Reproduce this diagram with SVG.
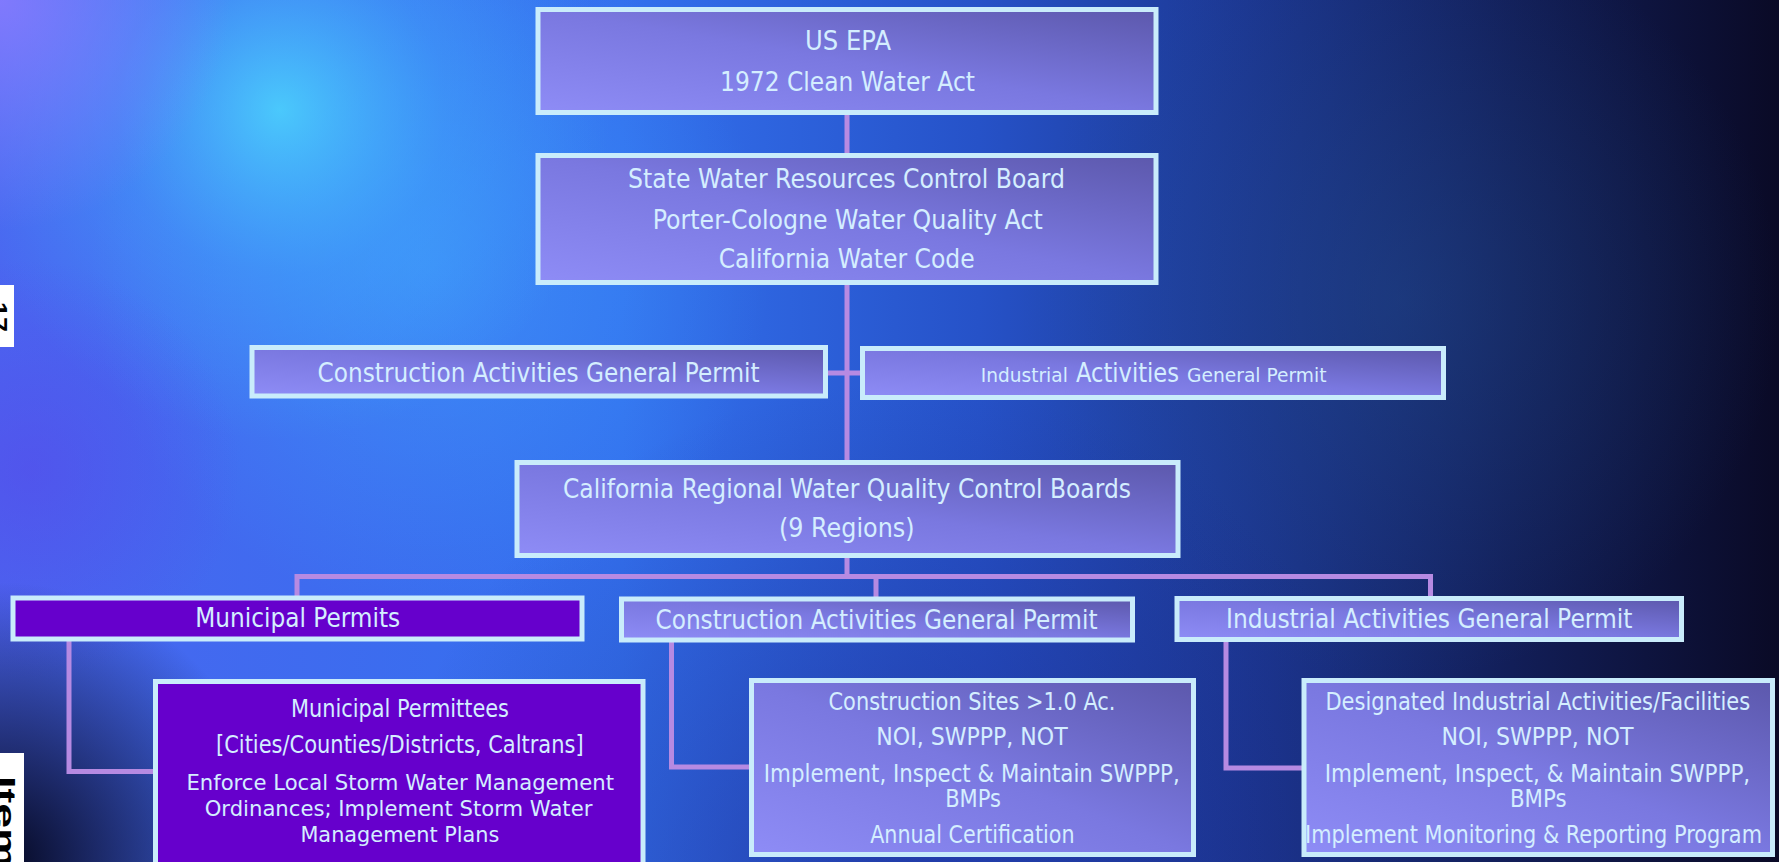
<svg xmlns="http://www.w3.org/2000/svg" width="1779" height="862" viewBox="0 0 1779 862">
<defs>
<style>
.box{fill:url(#boxg);stroke:#c9ecfb;stroke-width:5}
.mbox{fill:#6600cc;stroke:#c9ecfb;stroke-width:5}
.conn{stroke:#b68ae2;stroke-width:5;fill:none;stroke-linejoin:miter}
.t{font-family:'DejaVu Sans','Liberation Sans',sans-serif;fill:#d4eeff;font-size:26px}
.s{font-size:24px}
.xs{font-size:22px}
.sm{font-size:20px}
.lbl{font-family:'Liberation Sans',sans-serif;font-weight:bold;fill:#000}
</style>
<linearGradient id="bg" x1="0" y1="0" x2="1" y2="0">
<stop offset="0" stop-color="#4a66f0"/>
<stop offset="0.35" stop-color="#3370ee"/>
<stop offset="0.55" stop-color="#2652c8"/>
<stop offset="0.70" stop-color="#1c3792"/>
<stop offset="0.85" stop-color="#121e58"/>
<stop offset="1" stop-color="#0a0a26"/>
</linearGradient>
<radialGradient id="g1" cx="280" cy="110" r="330" gradientUnits="userSpaceOnUse">
<stop offset="0" stop-color="#4ee4ff" stop-opacity="0.75"/>
<stop offset="0.5" stop-color="#40b8ff" stop-opacity="0.35"/>
<stop offset="1" stop-color="#40b8ff" stop-opacity="0"/>
</radialGradient>
<radialGradient id="g2" cx="430" cy="270" r="340" gradientUnits="userSpaceOnUse">
<stop offset="0" stop-color="#40a8ff" stop-opacity="0.5"/>
<stop offset="1" stop-color="#40a8ff" stop-opacity="0"/>
</radialGradient>
<radialGradient id="g3" cx="0" cy="0" r="230" gradientUnits="userSpaceOnUse">
<stop offset="0" stop-color="#8a7cff" stop-opacity="0.85"/>
<stop offset="1" stop-color="#8a7cff" stop-opacity="0"/>
</radialGradient>
<radialGradient id="g4" cx="0" cy="862" r="280" gradientUnits="userSpaceOnUse">
<stop offset="0" stop-color="#050820" stop-opacity="1"/>
<stop offset="1" stop-color="#050820" stop-opacity="0"/>
</radialGradient>
<radialGradient id="g5" cx="30" cy="470" r="210" gradientUnits="userSpaceOnUse">
<stop offset="0" stop-color="#5a40e8" stop-opacity="0.45"/>
<stop offset="1" stop-color="#5a40e8" stop-opacity="0"/>
</radialGradient>
<radialGradient id="g6" cx="900" cy="900" r="520" gradientUnits="userSpaceOnUse">
<stop offset="0" stop-color="#1a2080" stop-opacity="0.5"/>
<stop offset="1" stop-color="#1a2080" stop-opacity="0"/>
</radialGradient>
<radialGradient id="g7" cx="1400" cy="300" r="380" gradientUnits="userSpaceOnUse">
<stop offset="0" stop-color="#245090" stop-opacity="0.4"/>
<stop offset="1" stop-color="#245090" stop-opacity="0"/>
</radialGradient>
<linearGradient id="boxg" x1="0" y1="1" x2="1" y2="0">
<stop offset="0" stop-color="#8e8cf6"/>
<stop offset="0.5" stop-color="#7a78e0"/>
<stop offset="1" stop-color="#5c58ac"/>
</linearGradient>
</defs>

<g id="background">
<rect x="0" y="0" width="1779" height="862" fill="url(#bg)"/>
<rect x="0" y="0" width="1779" height="862" fill="url(#g2)"/>
<rect x="0" y="0" width="1779" height="862" fill="url(#g1)"/>
<rect x="0" y="0" width="1779" height="862" fill="url(#g3)"/>
<rect x="0" y="0" width="1779" height="862" fill="url(#g5)"/>
<rect x="0" y="0" width="1779" height="862" fill="url(#g6)"/>
<rect x="0" y="0" width="1779" height="862" fill="url(#g7)"/>
<rect x="0" y="0" width="1779" height="862" fill="url(#g4)"/>
</g>

<g id="edge-labels">
<rect x="0" y="285" width="14" height="62" fill="#ffffff"/>
<text class="lbl" font-size="24" transform="translate(-10,302) rotate(90)" textLength="30" lengthAdjust="spacingAndGlyphs">17</text>
<rect x="0" y="753" width="24" height="109" fill="#ffffff"/>
<text class="lbl" font-size="28" transform="translate(-4,776) rotate(90)" textLength="92" lengthAdjust="spacingAndGlyphs">Item</text>
</g>

<g id="connectors">
<path class="conn" d="M847,113 V462"/>
<path class="conn" d="M826,373 H863"/>
<path class="conn" d="M847,556 V576.5"/>
<path class="conn" d="M297,598 V576.5 H1430.5 V598"/>
<path class="conn" d="M876,576.5 V599"/>
<path class="conn" d="M69,641 V771.5 H156"/>
<path class="conn" d="M671.5,642 V767 H752"/>
<path class="conn" d="M1226,641 V768 H1304"/>
</g>

<g id="node-epa">
<rect class="box" x="538" y="9.5" width="618" height="103"/>
<text class="t" x="805" y="50" textLength="86" lengthAdjust="spacingAndGlyphs">US EPA</text>
<text class="t" x="720" y="90.5" textLength="255" lengthAdjust="spacingAndGlyphs">1972 Clean Water Act</text>
</g>

<g id="node-state">
<rect class="box" x="538" y="155.5" width="618" height="127"/>
<text class="t" x="628" y="188" textLength="437" lengthAdjust="spacingAndGlyphs">State Water Resources Control Board</text>
<text class="t" x="652.7" y="229" textLength="390" lengthAdjust="spacingAndGlyphs">Porter-Cologne Water Quality Act</text>
<text class="t" x="718.7" y="268" textLength="256" lengthAdjust="spacingAndGlyphs">California Water Code</text>
</g>

<g id="node-construction-upper">
<rect class="box" x="252" y="347.5" width="573.5" height="48.5"/>
<text class="t" x="317.6" y="382" textLength="442" lengthAdjust="spacingAndGlyphs">Construction Activities General Permit</text>
</g>

<g id="node-industrial-upper">
<rect class="box" x="862.5" y="348.5" width="581" height="49"/>
<text class="t sm" x="980.8" y="382" textLength="87" lengthAdjust="spacingAndGlyphs">Industrial</text>
<text class="t" x="1076" y="382" textLength="103" lengthAdjust="spacingAndGlyphs">Activities</text>
<text class="t sm" x="1187" y="382" textLength="139.5" lengthAdjust="spacingAndGlyphs">General Permit</text>
</g>

<g id="node-regional">
<rect class="box" x="517" y="462.5" width="661" height="93"/>
<text class="t" x="563" y="498" textLength="568" lengthAdjust="spacingAndGlyphs">California Regional Water Quality Control Boards</text>
<text class="t" x="779" y="537" textLength="135.6" lengthAdjust="spacingAndGlyphs">(9 Regions)</text>
</g>

<g id="node-municipal-permits">
<rect class="mbox" x="13" y="598" width="569" height="41"/>
<text class="t" x="195.2" y="627" textLength="205" lengthAdjust="spacingAndGlyphs">Municipal Permits</text>
</g>

<g id="node-construction-lower">
<rect class="box" x="621.5" y="599" width="511" height="41"/>
<text class="t" x="655.5" y="629" textLength="442" lengthAdjust="spacingAndGlyphs">Construction Activities General Permit</text>
</g>

<g id="node-industrial-lower">
<rect class="box" x="1177" y="598.5" width="504.5" height="41"/>
<text class="t" x="1226" y="628" textLength="406.5" lengthAdjust="spacingAndGlyphs">Industrial Activities General Permit</text>
</g>

<g id="node-municipal-permittees">
<rect class="mbox" x="155.5" y="681.5" width="487.5" height="200"/>
<text class="t s" x="291" y="717" textLength="218" lengthAdjust="spacingAndGlyphs">Municipal Permittees</text>
<text class="t s" x="216" y="753" textLength="367.6" lengthAdjust="spacingAndGlyphs">[Cities/Counties/Districts, Caltrans]</text>
<text class="t xs" x="186.4" y="790" textLength="427.6" lengthAdjust="spacingAndGlyphs">Enforce Local Storm Water Management</text>
<text class="t xs" x="204.7" y="816" textLength="387.7" lengthAdjust="spacingAndGlyphs">Ordinances; Implement Storm Water</text>
<text class="t xs" x="300.4" y="842" textLength="199" lengthAdjust="spacingAndGlyphs">Management Plans</text>
</g>

<g id="node-construction-sites">
<rect class="box" x="751.5" y="680.5" width="442" height="174"/>
<text class="t s" x="828.5" y="710" textLength="287" lengthAdjust="spacingAndGlyphs">Construction Sites &gt;1.0 Ac.</text>
<text class="t s" x="876.3" y="745" textLength="191.4" lengthAdjust="spacingAndGlyphs">NOI, SWPPP, NOT</text>
<text class="t s" x="763.8" y="782" textLength="416" lengthAdjust="spacingAndGlyphs">Implement, Inspect &amp; Maintain SWPPP,</text>
<text class="t s" x="945.2" y="807" textLength="55.8" lengthAdjust="spacingAndGlyphs">BMPs</text>
<text class="t s" x="870.2" y="843" textLength="204.4" lengthAdjust="spacingAndGlyphs">Annual Certification</text>
</g>

<g id="node-industrial-facilities">
<rect class="box" x="1304" y="680.5" width="468.5" height="174"/>
<text class="t s" x="1325.4" y="710" textLength="424.8" lengthAdjust="spacingAndGlyphs">Designated Industrial Activities/Facilities</text>
<text class="t s" x="1441.4" y="745" textLength="192" lengthAdjust="spacingAndGlyphs">NOI, SWPPP, NOT</text>
<text class="t s" x="1324.7" y="782" textLength="425.5" lengthAdjust="spacingAndGlyphs">Implement, Inspect, &amp; Maintain SWPPP,</text>
<text class="t s" x="1509.9" y="807" textLength="56.6" lengthAdjust="spacingAndGlyphs">BMPs</text>
<text class="t s" x="1305" y="843" textLength="457" lengthAdjust="spacingAndGlyphs">Implement Monitoring &amp; Reporting Program</text>
</g>
</svg>
